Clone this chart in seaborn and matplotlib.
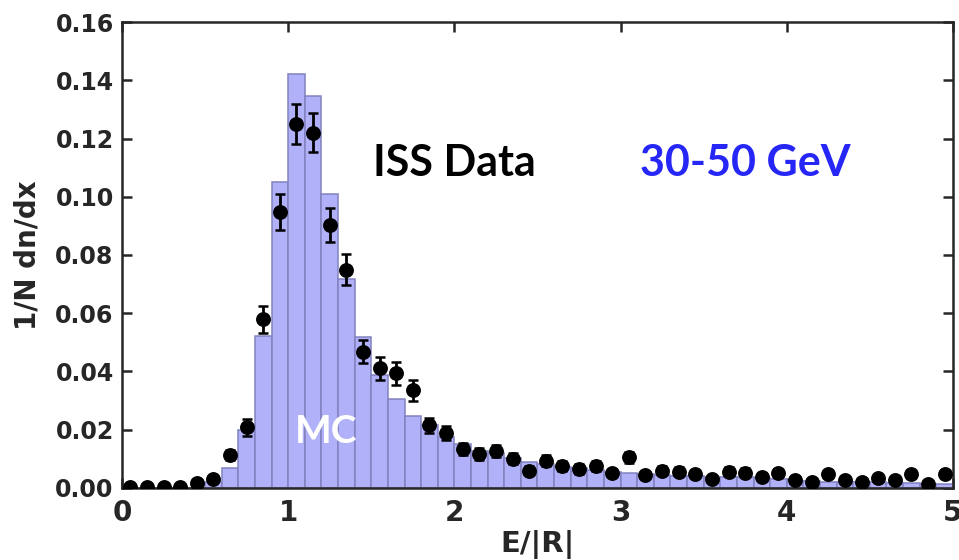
import numpy as np
import pandas as pd
import matplotlib
matplotlib.use("Agg")
import matplotlib.pyplot as plt
import seaborn as sns

# Bin layout of the E/|R| histogram
bin_edges = [round(0.1 * i, 1) for i in range(51)]
bin_centers = [round(0.05 + 0.1 * i, 2) for i in range(50)]

# Monte Carlo expectation, one value per bin
mc_values = [
    0.0, 0.0, 0.0, 0.0, 0.0, 0.0020, 0.0068, 0.0199, 0.0522, 0.1050,
    0.1420, 0.1347, 0.1010, 0.0716, 0.0517, 0.0388, 0.0305, 0.0247, 0.0216, 0.0176,
    0.0151, 0.0128, 0.0119, 0.0102, 0.0090, 0.0082, 0.0073, 0.0067, 0.0062, 0.0056,
    0.0052, 0.0047, 0.0045, 0.0042, 0.0040, 0.0039, 0.0038, 0.0036, 0.0034, 0.0032,
    0.0024, 0.0023, 0.0022, 0.0021, 0.0020, 0.0019, 0.0017, 0.0016, 0.0015, 0.0014,
]

# ISS data points and their statistical errors
iss_values = [
    0.0004, 0.0003, 0.0004, 0.0004, 0.0018, 0.0030, 0.0113, 0.0208, 0.0579, 0.0949,
    0.1250, 0.1220, 0.0903, 0.0749, 0.0468, 0.0411, 0.0394, 0.0335, 0.0216, 0.0188,
    0.0134, 0.0116, 0.0127, 0.0100, 0.0059, 0.0094, 0.0075, 0.0065, 0.0075, 0.0050,
    0.0105, 0.0045, 0.0059, 0.0056, 0.0048, 0.0031, 0.0056, 0.0053, 0.0039, 0.0050,
    0.0027, 0.0020, 0.0048, 0.0027, 0.0020, 0.0033, 0.0027, 0.0048, 0.0014, 0.0048,
]
iss_errors = [
    0.0003, 0.0003, 0.0003, 0.0003, 0.0006, 0.0009, 0.0018, 0.0028, 0.0046, 0.0062,
    0.0069, 0.0067, 0.0060, 0.0053, 0.0040, 0.0040, 0.0040, 0.0036, 0.0026, 0.0024,
    0.0021, 0.0020, 0.0021, 0.0019, 0.0015, 0.0019, 0.0017, 0.0016, 0.0017, 0.0014,
    0.0020, 0.0013, 0.0015, 0.0015, 0.0014, 0.0011, 0.0015, 0.0014, 0.0012, 0.0014,
    0.0010, 0.0009, 0.0014, 0.0010, 0.0009, 0.0011, 0.0010, 0.0014, 0.0008, 0.0014,
]

x_ticks = [0, 1, 2, 3, 4, 5]
y_ticks = [0.00, 0.02, 0.04, 0.06, 0.08, 0.10, 0.12, 0.14, 0.16]

sns.set_style("ticks")
plt.rcParams["font.family"] = ["DejaVu Sans"]
plt.rcParams["font.weight"] = "bold"

fig = plt.figure(figsize=(9.59, 5.60), dpi=100)
ax = fig.add_axes([0.1272, 0.1286, 0.8665, 0.8321])

mc = pd.DataFrame({"x": bin_centers, "w": mc_values})
sns.histplot(data=mc, x="x", weights="w", bins=bin_edges, stat="count",
             color="#b1b1fa", edgecolor="#8282c0", linewidth=1.1, alpha=1.0, ax=ax)

iss = pd.DataFrame({"x": bin_centers, "y": iss_values})
ax.errorbar(bin_centers, iss_values, yerr=iss_errors, fmt="none",
            ecolor="black", elinewidth=2.0, capsize=3.5, capthick=1.8, zorder=3)
sns.scatterplot(data=iss, x="x", y="y", color="black", s=115, edgecolor="black",
                linewidth=0, zorder=4, ax=ax)

ax.set_xlim(0, 5)
ax.set_ylim(0, 0.16)
ax.set_xticks(x_ticks)
ax.set_yticks(y_ticks)
ax.set_xticklabels([str(t) for t in x_ticks], fontsize=20, fontweight="bold")
ax.set_yticklabels([f"{t:.2f}" for t in y_ticks], fontsize=17, fontweight="bold")
ax.tick_params(direction="in", length=7, width=1.8, top=True, right=True, pad=6)
ax.tick_params(axis="x", pad=8)
for side in ax.spines.values():
    side.set_linewidth(1.8)
    side.set_visible(True)

ax.set_xlabel("E/|R|", fontsize=21, fontweight="bold", labelpad=2)
ax.set_ylabel("1/N dn/dx", fontsize=20, fontweight="bold", labelpad=10)

ax.text(2.0, 0.1115, "ISS Data", fontsize=31, fontweight="bold",
        family=["Lato", "DejaVu Sans"], color="black", ha="center", va="center")
ax.text(3.75, 0.1115, "30-50 GeV", fontsize=31, fontweight="bold",
        family=["Lato", "DejaVu Sans"], color="#2626f7", ha="center", va="center")
ax.text(1.23, 0.0195, "MC", fontsize=28, fontweight="bold",
        family=["Lato", "DejaVu Sans"], color="white", ha="center", va="center")

fig.savefig("out.png", dpi=100)
